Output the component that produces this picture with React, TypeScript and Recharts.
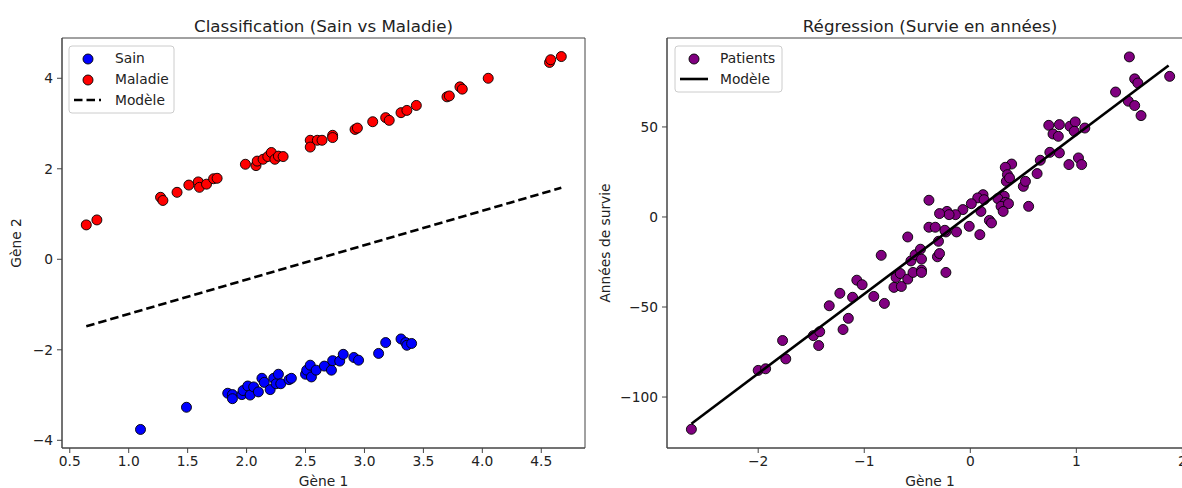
import { ScatterChart, Scatter, XAxis, YAxis, ReferenceArea } from "recharts";

// --- Classification (Sain vs Maladie) ---
const sainGene1 = [1.1, 1.49, 1.84, 1.88, 1.88, 1.96, 1.97, 2.01, 2.03, 2.06, 2.1, 2.13, 2.15, 2.2, 2.23, 2.25, 2.27, 2.29, 2.36, 2.38, 2.5, 2.51, 2.54, 2.55, 2.59, 2.66, 2.72, 2.73, 2.79, 2.82, 2.91, 2.95, 3.12, 3.18, 3.31, 3.35, 3.36, 3.4];
const sainGene2 = [-3.76, -3.27, -2.96, -2.99, -3.08, -2.99, -2.9, -2.8, -3.0, -2.82, -2.93, -2.63, -2.72, -2.88, -2.63, -2.75, -2.54, -2.75, -2.66, -2.63, -2.54, -2.45, -2.34, -2.6, -2.45, -2.36, -2.45, -2.24, -2.25, -2.1, -2.17, -2.23, -2.08, -1.84, -1.76, -1.84, -1.9, -1.86];
const maladieGene1 = [0.64, 0.73, 1.27, 1.29, 1.41, 1.51, 1.59, 1.6, 1.66, 1.72, 1.75, 1.99, 2.08, 2.09, 2.14, 2.18, 2.21, 2.24, 2.27, 2.31, 2.54, 2.54, 2.6, 2.64, 2.73, 2.73, 2.92, 2.94, 3.07, 3.18, 3.21, 3.31, 3.36, 3.44, 3.7, 3.72, 3.81, 3.83, 4.05, 4.57, 4.58, 4.67];
const maladieGene2 = [0.76, 0.87, 1.37, 1.3, 1.48, 1.64, 1.71, 1.59, 1.66, 1.78, 1.79, 2.1, 2.07, 2.17, 2.21, 2.27, 2.36, 2.21, 2.28, 2.27, 2.63, 2.48, 2.63, 2.63, 2.74, 2.69, 2.87, 2.9, 3.04, 3.13, 3.07, 3.24, 3.29, 3.4, 3.59, 3.61, 3.81, 3.76, 4.0, 4.35, 4.41, 4.48];
const classModelX = [0.64, 4.67];
const classModelY = [-1.48, 1.58];
const classXTicks = [0.5, 1, 1.5, 2, 2.5, 3, 3.5, 4, 4.5];
const classYTicks = [-4, -2, 0, 2, 4];

// --- Régression (Survie en années) ---
const patientsGene1 = [
  1.5, 1.88, 1.55, 1.58, 1.37, 1.49, 1.55, 1.61, 0.74, 0.78, 0.83, 0.84, 0.94, 0.99, 0.98, 1.08,
  0.84, 0.75, 0.66, 0.93, 1.02, 1.05, 0.63, 0.39, 0.33, 0.35, 0.34, 0.37, 0.5, 0.52, 0.55, 0.32,
  0.26, 0.33, 0.29, 0.36, 0.31, 0.12, 0.07, 0.13, 0.01, 0.1, 0.18, 0.2, -0.01, 0.09, -0.07, -0.14,
  -0.22, -0.2, -0.29, -0.39, -0.23, -0.13, -0.24, -0.39, -0.33, -0.59, -0.3, -0.84,
  -2.63, -2.0, -1.93, -1.77, -1.74, -1.48, -1.42, -1.43, -1.33, -1.23, -1.15, -1.2, -1.11, -1.07,
  -1.02, -0.91, -0.81, -0.72, -0.7, -0.66, -0.65, -0.59, -0.54, -0.56, -0.52, -0.47, -0.46, -0.46,
  -0.46, -0.31, -0.29, -0.23,
];
const patientsSurvie = [
  88.9, 78.1, 76.7, 74.4, 69.4, 64.3, 61.9, 56.3, 50.9, 46.1, 44.8, 51.3, 50.4, 52.8, 47.6, 49.4,
  35.6, 35.9, 31.5, 29.1, 32.8, 29.1, 24.1, 29.4, 27.6, 23.5, 19.8, 21.7, 17.0, 19.8, 5.9, 11.5,
  10.2, 8.1, 5.9, 7.4, 3.1, 12.4, 10.6, 9.6, 7.4, 3.1, -1.9, -3.3, -5.2, -9.8, 4.1, 1.3,
  3.1, 1.3, 1.9, 9.3, -8.3, -8.3, -7.4, -5.7, -5.7, -11.1, -13.5, -21.3,
  -117.9, -85.2, -84.3, -68.6, -78.8, -65.9, -63.7, -71.4, -49.3, -42.4, -56.3, -62.5, -44.6, -35.1,
  -37.6, -44.1, -48.0, -39.1, -33.6, -31.4, -38.6, -34.5, -30.8, -24.4, -21.0, -17.9, -23.4, -29.5,
  -30.8, -22.1, -20.3, -30.8,
];
const regModelX = [-2.63, 1.87];
const regModelY = [-114.8, 84.1];
const regXTicks = [-2, -1, 0, 1, 2];
const regYTicks = [-100, -50, 0, 50];

const FONT = '"DejaVu Sans", sans-serif';
const TXT = "#222";
const AX = "#444";

const zip = (xs: number[], ys: number[]) => xs.map((x, i) => ({ x, y: ys[i] }));

const dot = (fill: string) => (p: any) =>
  <circle cx={p.cx} cy={p.cy} r={5} fill={fill} stroke="#000" strokeWidth={0.9} />;

const noDot = () => <g />;
const minus = (v: number) => String(v).replace("-", "\u2212");
const tickStyle = { fill: TXT, fontSize: 13.8, fontFamily: FONT };

export default function App() {
  return (
    <div style={{ position: "absolute", left: 0, top: 0, width: 1182, height: 488, overflow: "hidden", background: "#fff" }}>
      <div style={{ position: "absolute", left: 0, top: 0 }}>
        <ScatterChart width={600} height={488} margin={{ top: 38, right: 15, bottom: 0, left: 12 }}>
          <XAxis
            type="number" dataKey="x" domain={[0.434, 4.871]} ticks={classXTicks} allowDataOverflow
            tickFormatter={(v: number) => v.toFixed(1)} height={40} tickSize={5} tickMargin={3}
            stroke={AX} tick={tickStyle}
            label={{ value: "Gène 1", position: "insideBottom", offset: 2, fill: TXT, fontSize: 13.8, fontFamily: FONT }}
          />
          <YAxis
            type="number" dataKey="y" domain={[-4.17, 4.89]} ticks={classYTicks} allowDataOverflow
            tickFormatter={minus} width={50} tickSize={5} tickMargin={4} stroke={AX} tick={tickStyle}
            label={{ value: "Gène 2", angle: -90, position: "insideLeft", offset: 4, fill: TXT, fontSize: 13.8, fontFamily: FONT, style: { textAnchor: "middle" } }}
          />
          <ReferenceArea x1={0.434} x2={4.871} y1={-4.17} y2={4.89} fill="none" stroke={AX} strokeWidth={1} />
          <Scatter name="Sain" data={zip(sainGene1, sainGene2)} shape={dot("#0000ff")} isAnimationActive={false} />
          <Scatter name="Maladie" data={zip(maladieGene1, maladieGene2)} shape={dot("#ff0000")} isAnimationActive={false} />
          <Scatter
            name="Modèle" data={zip(classModelX, classModelY)} shape={noDot}
            line={{ stroke: "#000", strokeWidth: 2.6, strokeDasharray: "8.5 4" }} isAnimationActive={false}
          />
        </ScatterChart>
      </div>

      <div style={{ position: "absolute", left: 590, top: 0 }}>
        <ScatterChart width={610} height={488} margin={{ top: 38, right: 7, bottom: 0, left: 12 }}>
          <XAxis
            type="number" dataKey="x" domain={[-2.86, 2.1]} ticks={regXTicks} allowDataOverflow
            tickFormatter={minus} height={40} tickSize={5} tickMargin={3} stroke={AX} tick={tickStyle}
            label={{ value: "Gène 1", position: "insideBottom", offset: 2, fill: TXT, fontSize: 13.8, fontFamily: FONT }}
          />
          <YAxis
            type="number" dataKey="y" domain={[-128.3, 99.4]} ticks={regYTicks} allowDataOverflow
            tickFormatter={minus} width={65} tickSize={5} tickMargin={4} stroke={AX} tick={tickStyle}
            label={{ value: "Années de survie", angle: -90, position: "insideLeft", offset: 3, fill: TXT, fontSize: 13.8, fontFamily: FONT, style: { textAnchor: "middle" } }}
          />
          <ReferenceArea x1={-2.86} x2={2.1} y1={-128.3} y2={99.4} fill="none" stroke={AX} strokeWidth={1} />
          <Scatter name="Patients" data={zip(patientsGene1, patientsSurvie)} shape={dot("#800080")} isAnimationActive={false} />
          <Scatter
            name="Modèle" data={zip(regModelX, regModelY)} shape={noDot}
            line={{ stroke: "#000", strokeWidth: 2.6 }} isAnimationActive={false}
          />
        </ScatterChart>
      </div>

      <svg width={1182} height={488} style={{ position: "absolute", left: 0, top: 0, pointerEvents: "none" }}>
        <g fontFamily={FONT} fill={TXT}>
          <text x={323.5} y={32} fontSize={16.7} textAnchor="middle">Classification (Sain vs Maladie)</text>
          <text x={930} y={32} fontSize={16.7} textAnchor="middle">Régression (Survie en années)</text>
        </g>

        <rect x={69} y={46} width={105} height={67} rx={3} fill="#fff" fillOpacity={0.8} stroke="#ccc" />
        <circle cx={88} cy={59} r={5} fill="#0000ff" stroke="#000" strokeWidth={0.9} />
        <circle cx={88} cy={80} r={5} fill="#ff0000" stroke="#000" strokeWidth={0.9} />
        <line x1={74} x2={101} y1={100} y2={100} stroke="#000" strokeWidth={2.6} strokeDasharray="8.5 4" />
        <g fontFamily={FONT} fill={TXT} fontSize={13.8}>
          <text x={115} y={63}>Sain</text>
          <text x={115} y={84}>Maladie</text>
          <text x={115} y={105}>Modèle</text>
        </g>

        <rect x={675} y={46} width={107} height={46} rx={3} fill="#fff" fillOpacity={0.8} stroke="#ccc" />
        <circle cx={694} cy={59} r={5} fill="#800080" stroke="#000" strokeWidth={0.9} />
        <line x1={680} x2={708} y1={79} y2={79} stroke="#000" strokeWidth={2.6} />
        <g fontFamily={FONT} fill={TXT} fontSize={13.8}>
          <text x={720} y={63}>Patients</text>
          <text x={720} y={84}>Modèle</text>
        </g>
      </svg>
    </div>
  );
}
